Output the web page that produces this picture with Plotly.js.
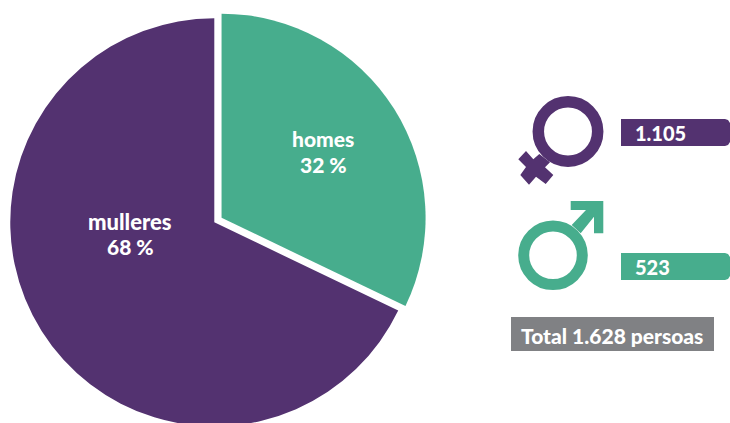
<!DOCTYPE html>
<html>
<head>
<meta charset="utf-8">
<script src="https://cdn.plot.ly/plotly-3.0.1.min.js"></script>
<style>
html,body{margin:0;padding:0;background:#fff;overflow:hidden;width:730px;height:423px}
#clip{width:730px;height:423px;overflow:hidden}
</style>
</head>
<body>
<div id="clip"><div id="chart"></div></div>
<script>
var categories = ['homes', 'mulleres'];
var counts = [523, 1105];
var shares = ['32 %', '68 %'];
var countLabels = ['523', '1.105'];
var totalLabel = 'Total 1.628 persoas';
var colors = ['#47AD8D', '#533270'];
var grey = '#808184';

var W = 730, H = 440;
var FONT = 'Lato, "Noto Sans", sans-serif';
function X(p){ return p / W; }
function Y(p){ return 1 - p / H; }
function path(pts){
  return 'M' + pts.map(function(q){ return X(q[0]) + ',' + Y(q[1]); }).join('L') + 'Z';
}
function ring(cx, cy, r, w, color){
  return {type:'circle', xref:'paper', yref:'paper', x0:X(cx-r), x1:X(cx+r), y0:Y(cy+r), y1:Y(cy-r),
          line:{color:color, width:w}, fillcolor:'rgba(0,0,0,0)'};
}
function poly(pts, color){
  return {type:'path', xref:'paper', yref:'paper', path:path(pts), fillcolor:color, line:{width:0}};
}
function tag(x0, y0, x1, y1, color){
  return poly([[x0,y0],[x1-5,y0],[x1-2,y0+1],[x1,y0+4],[x1,y1-4],[x1-2,y1-1],[x1-5,y1],[x0,y1]], color);
}
function label(text, x, y, anchor, size){
  return {text:text, xref:'paper', yref:'paper', x:X(x), y:Y(y), xanchor:anchor, yanchor:'middle',
          showarrow:false, align:'center', font:{family:FONT, size:size, color:'#fff', weight:900}};
}

var female = [[539.3,154],[533.3,159.3],[526,151],[518.3,159.3],[526,167],[520.3,175],[529,184.7],[536,176.7],[545.7,184],[553.3,175],[545,167.3],[550,162.3]];
var male = [[570.7,201],[603.3,201],[603.3,233.3],[594,233.3],[594,216.7],[580.7,233.3],[571.7,225],[586,210],[570.7,210]];

var data = [{
  type:'pie',
  labels:categories,
  values:counts,
  sort:false,
  direction:'clockwise',
  rotation:0,
  pull:[0.042, 0],
  marker:{colors:colors, line:{width:0}},
  textinfo:'none',
  hoverinfo:'none',
  showlegend:false,
  domain:{x:[1.7/W, 426.9/W], y:[(H-434.9)/H, (H-9.7)/H]}
}];

var layout = {
  width:W, height:H,
  margin:{l:0, r:0, t:0, b:0, pad:0},
  paper_bgcolor:'#fff',
  showlegend:false,
  shapes:[
    ring(568, 131.5, 29.7, 11.5, colors[1]),
    poly(female, colors[1]),
    ring(553, 255.3, 29.3, 11, colors[0]),
    poly(male, colors[0]),
    tag(621, 119, 730, 146, colors[1]),
    tag(621, 253, 730, 280, colors[0]),
    {type:'rect', xref:'paper', yref:'paper', x0:X(511), x1:X(714), y0:Y(351), y1:Y(317), fillcolor:grey, line:{width:0}}
  ],
  annotations:[
    label(categories[0], 323, 138, 'center', 21),
    label(shares[0], 323, 164, 'center', 21),
    label(categories[1], 130, 221, 'center', 22),
    label(shares[1], 130, 246, 'center', 21),
    label(countLabels[1], 632.5, 132.5, 'left', 20),
    label(countLabels[0], 632.5, 266.5, 'left', 20),
    label(totalLabel, 612, 335, 'center', 21)
  ]
};
Plotly.newPlot('chart', data, layout, {displayModeBar:false, staticPlot:true});
</script>
</body>
</html>
